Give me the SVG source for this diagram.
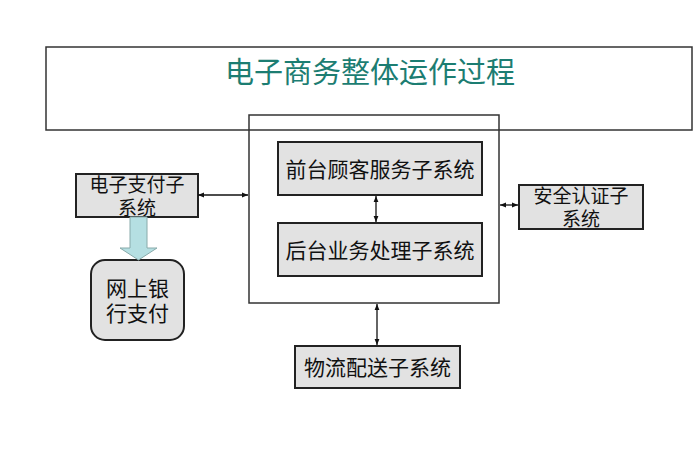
<svg xmlns="http://www.w3.org/2000/svg" width="700" height="470" viewBox="0 0 700 470">
<defs>
<marker id="ah" viewBox="0 0 10 10" refX="10" refY="5" markerWidth="6" markerHeight="6" orient="auto-start-reverse" markerUnits="userSpaceOnUse">
<path d="M0,1 L10,5 L0,9 Z" fill="#111"/>
</marker>
</defs>
<style>
.box{fill:#e2e2e2;stroke:#222;stroke-width:2}
.t{font-family:"Noto Sans CJK SC","Noto Sans",sans-serif;fill:#111;text-anchor:middle}
.conn line{stroke:#111;stroke-width:1.3;marker-start:url(#ah);marker-end:url(#ah)}
</style>
<rect width="700" height="470" fill="#fff"/>
<g id="container">
<rect x="249" y="115" width="250" height="188" fill="#fff" stroke="#333" stroke-width="1.5"/>
</g>
<g id="title">
<rect x="46" y="47" width="646" height="83" fill="none" stroke="#333" stroke-width="1.5"/>
<text x="370" y="83" class="t" style="font-size:29px;fill:#1c7d72">电子商务整体运作过程</text>
</g>
<g id="front">
<rect x="278" y="142" width="204" height="53" class="box"/>
<text x="380" y="177" class="t" style="font-size:21px">前台顾客服务子系统</text>
</g>
<g id="back">
<rect x="278" y="223" width="204" height="53" class="box"/>
<text x="380" y="258" class="t" style="font-size:21px">后台业务处理子系统</text>
</g>
<g id="pay">
<rect x="76" y="174" width="122" height="43" class="box"/>
<text x="137" y="192" class="t" style="font-size:19px">电子支付子</text>
<text x="137" y="215" class="t" style="font-size:19px">系统</text>
</g>
<g id="bank">
<rect x="91" y="260" width="93" height="80" rx="14" ry="14" class="box"/>
<text x="137.5" y="296" class="t" style="font-size:21px">网上银</text>
<text x="137.5" y="321" class="t" style="font-size:21px">行支付</text>
</g>
<g id="security">
<rect x="519" y="185" width="124" height="44" class="box"/>
<text x="581" y="203" class="t" style="font-size:19px">安全认证子</text>
<text x="581" y="226" class="t" style="font-size:19px">系统</text>
</g>
<g id="logistics">
<rect x="295" y="346" width="165" height="42" class="box"/>
<text x="377.5" y="375" class="t" style="font-size:21px">物流配送子系统</text>
</g>
<g class="conn" id="connectors">
<line x1="198" y1="195" x2="248" y2="195"/>
<line x1="500" y1="205" x2="518" y2="205"/>
<line x1="376" y1="196" x2="376" y2="222"/>
<line x1="377" y1="304" x2="377" y2="345"/>
<path d="M130,217 L147,217 L147,248 L157,248 L138.5,260 L120,248 L130,248 Z" fill="#b5dfe2" stroke="#8aa" stroke-width="1"/>
</g>
</svg>
